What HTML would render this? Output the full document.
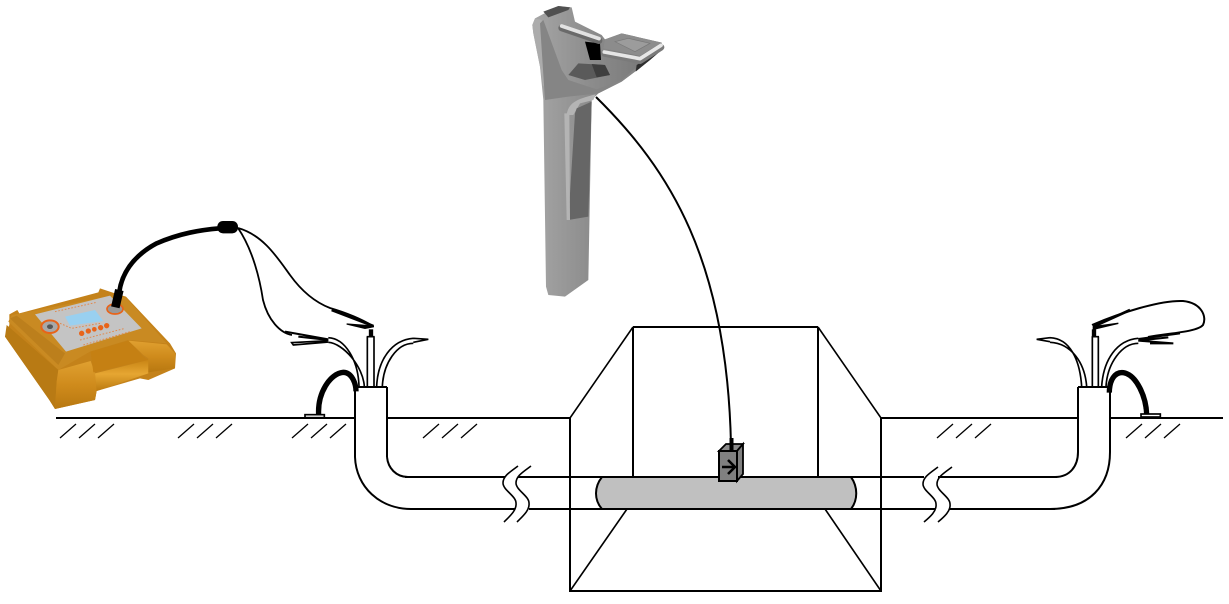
<!DOCTYPE html>
<html><head><meta charset="utf-8"><title>Diagram</title>
<style>html,body{margin:0;padding:0;background:#fff}svg{display:block}</style></head>
<body>
<svg width="1229" height="604" viewBox="0 0 1229 604" xmlns="http://www.w3.org/2000/svg">
<defs>
<linearGradient id="hf" x1="0" y1="0" x2="0" y2="1"><stop offset="0" stop-color="#c98515"/><stop offset=".45" stop-color="#e6a632"/><stop offset="1" stop-color="#bb7a10"/></linearGradient>
<linearGradient id="lob" x1="0" y1="0" x2="0" y2="1"><stop offset="0" stop-color="#e0a030"/><stop offset=".5" stop-color="#cf8b1c"/><stop offset="1" stop-color="#b87810"/></linearGradient>
<linearGradient id="rb" x1="0" y1="0" x2="1" y2="0"><stop offset="0" stop-color="#a6a6a6"/><stop offset=".45" stop-color="#8c8c8c"/><stop offset="1" stop-color="#727272"/></linearGradient>
</defs>

<!-- case -->
<g transform="translate(0,285) scale(.33333)">
<path d="M28,88 L52,75 L58,85 L295,22 L300,10 L345,25 L378,35 L510,175 L528,205 L525,250 L445,285 L420,280 L290,318 L285,345 L165,372 L148,345 L15,155 L28,120Z" fill="#c4821a"/>
<path d="M35,90 L345,30 L380,40 L500,175 L385,165 L270,200 L175,255 L25,110Z" fill="#c98a22"/>
<path d="M20,120 L175,255 L170,290 L165,372 L148,345 L15,155Z" fill="#b87a14"/>
<path d="M30,100 L50,92 L195,205 L175,240Z" fill="#bc7f1c"/>
<path d="M175,255 L272,228 L285,265 L290,318 L285,345 L165,372 L170,290Z" fill="url(#lob)"/>
<path d="M272,200 L385,167 L430,215 L445,225 L280,262Z" fill="#c58013"/>
<path d="M285,265 L445,225 L445,265 L290,318Z" fill="url(#hf)"/>
<path d="M385,167 L500,178 L525,205 L525,250 L445,262 L445,220 L430,210Z" fill="url(#lob)"/>
<path d="M105,88 L330,32 L425,130 L198,200Z" fill="#c4c4c4"/>
<path d="M195,95 L285,75 L310,108 L210,122Z" fill="#99d0f0"/>
<ellipse cx="150" cy="125" rx="26" ry="19" fill="#a8a8a8" stroke="#e8641a" stroke-width="6"/>
<ellipse cx="150" cy="125" rx="9" ry="7" fill="#555"/>
<ellipse cx="345" cy="72" rx="24" ry="15" fill="#999" stroke="#e8641a" stroke-width="5"/>
<g fill="#e8641a"><circle cx="245" cy="145" r="8"/><circle cx="265" cy="138" r="8"/><circle cx="283" cy="133" r="7"/><circle cx="302" cy="128" r="8"/><circle cx="320" cy="122" r="8"/></g>
<path d="M165,80 L290,52 M240,165 L375,130 M180,115 L215,130 L300,115 M250,180 L390,140" stroke="#e08a50" stroke-width="3" stroke-dasharray="5 5" fill="none"/>
</g>
<g transform="translate(0,210) scale(.33333)" fill="none" stroke="#000">
<path d="M346,292 L358,240" stroke-width="26"/>
<path d="M358,245 C365,195 395,140 470,100 C540,70 600,60 660,55" stroke-width="14"/>
<rect x="652" y="33" width="62" height="37" rx="17" fill="#000" stroke="none"/>
</g>

<!-- receiver -->
<g transform="translate(525,0) scale(.33333)">
<path d="M22,75 L30,55 L100,18 L140,22 L150,65 L230,105 L240,118 L290,100 L410,128 L415,145 L375,180 L330,215 L290,245 L220,280 L200,300 L190,840 L120,890 L70,885 L63,860 L55,300 L45,200 L25,100Z" fill="url(#rb)"/>
<path d="M22,75 L30,55 L50,60 L55,110 L85,230 L55,260 L45,200 L25,100Z" fill="#acacac"/>
<path d="M55,35 L100,18 L135,22 L130,30 L70,52Z" fill="#505050"/>
<path d="M45,70 L55,60 L110,210 L130,240 L215,268 L290,240 L330,205 L330,215 L290,245 L220,280 L130,290 L60,300Z" fill="#858585"/>
<path d="M130,225 L160,190 L240,195 L255,225 L180,240Z" fill="#5a5a5a"/>
<path d="M200,192 L240,195 L255,225 L215,232Z" fill="#3e3e3e"/>
<path d="M180,125 L225,130 L228,180 L195,180Z" fill="#000"/>
<path d="M125,345 C130,310 150,298 212,283 L205,300 L165,310 L145,345Z" fill="#b4b4b4"/>
<path d="M155,325 L200,305 L190,650 L130,660 L150,340Z" fill="#666"/>
<path d="M118,340 L133,340 L135,660 L125,660Z" fill="#b4b4b4"/>
<path d="M240,118 L290,100 L410,128 L345,168 L235,145Z" fill="#8c8c8c"/>
<path d="M270,125 L310,115 L375,130 L330,155Z" fill="#9c9c9c" stroke="#777" stroke-width="2"/>
<path d="M335,195 L410,150 L375,180 L332,215Z" fill="#2e2e2e"/>
<path d="M110,84 L222,122" stroke="#6a6a6a" stroke-width="20" stroke-linecap="round" fill="none"/>
<path d="M110,78 L222,116" stroke="#e2e2e2" stroke-width="11" stroke-linecap="round" fill="none"/>
<path d="M238,160 L345,182 L408,142" stroke="#7a7a7a" stroke-width="20" stroke-linecap="round" stroke-linejoin="round" fill="none"/>
<path d="M238,156 L345,176 L408,136" stroke="#e6e6e6" stroke-width="11" stroke-linecap="round" stroke-linejoin="round" fill="none"/>
</g>

<g fill="none" stroke="#000" stroke-linecap="butt">
<!-- receiver wire -->
<path d="M596,97 C670,170 727,260 731,445" stroke-width="2"/>

<!-- ground -->
<g stroke-width="2" shape-rendering="crispEdges">
<path d="M56,418H355M387,418H570M881,418H1078M1110,418H1223"/>
<path d="M570,418V592M881,418V592M570,591H881"/>
<path d="M633,327H818M633,327V477M818,327V477"/>
<path d="M355,387V457M387,387V457M355,387H387M1078,387V452M1110,387V452M1078,387H1110"/>
<path d="M405,477H505M518,477H924M938,477H1057M411,509H515M529,509H935M949,509H1055"/>
</g>
<path d="M387,457 C388,468 396,477 408,477M355,457 C356,487 380,509 411,509M1078,452 C1078,466 1070,477 1055,477M1110,452 C1110,485 1090,509 1050,509" stroke-width="2"/>
<path d="M570,418L633,327M881,418L818,327M570,591L627,509M881,591L825,509" stroke-width="1.6"/>

<!-- hatching -->
<path d="M60,438L76,424M79,438L95,424M98,438L114,424M178,438L194,424M197,438L213,424M216,438L232,424M292,438L308,424M311,438L327,424M330,438L346,424M423,438L439,424M442,438L458,424M461,438L477,424M937,438L953,424M956,438L972,424M975,438L991,424M1126,438L1142,424M1145,438L1161,424M1164,438L1180,424" stroke-width="1.3"/>

<!-- grey pipe -->
<path d="M602,477 H851 C858,487 858,500 851,509 H602 C594,500 594,487 602,477Z" fill="#c0c0c0" stroke-width="2"/>

<!-- breaks -->
<path d="M518,466 C510,472 503,476 503,483 C503,490 516,496 516,503 C517,510 510,516 504,522M531,466 C523,472 516,476 516,483 C516,490 529,496 529,503 C530,510 523,516 517,522" stroke-width="1.6"/>
<path d="M938,467 C930,473 923,477 923,484 C923,491 936,497 936,504 C937,511 930,517 924,522M952,467 C944,473 937,477 937,484 C937,491 950,497 950,504 C951,511 944,517 938,522" stroke-width="1.6"/>

<!-- transmitter -->
<path d="M719,451 L726,444 H743 L737,451Z" fill="#8a8a8a" stroke-width="1.8"/>
<path d="M737,451 L743,444 V474 L737,481Z" fill="#808080" stroke-width="1.8"/>
<rect x="719" y="451" width="18" height="30" fill="#808080" stroke-width="2"/>
<path d="M722,467H734M728,460L735,467L728,474" stroke-width="2.6"/>
<path d="M731.500,438V450" stroke-width="4"/>

<!-- left leads from plug -->
<path d="M238,228 C263,235 277,257 290,275 C303,293 317,303 330,308 C347,313 363,320 373,326" stroke-width="1.8"/>
<path d="M238,228 C253,250 260,280 263,300 C268,320 280,333 292,335" stroke-width="1.8"/>

<!-- left clamp and conduits -->
<g transform="translate(230,220) scale(.33333)">
<rect x="225" y="584" width="58" height="9" fill="#fff" stroke-width="5"/>
<path d="M266,585 C262,520 300,460 340,457 C365,457 378,490 378,514" stroke-width="16"/>
</g>
<g transform="translate(285,310) scale(.33333)" stroke-width="5">
<path d="M130,83 C180,85 220,150 222,230M130,97 C175,100 235,170 238,230"/>
<path d="M247,80V230M267,80V230M245,80H269"/>
<path d="M258,80V58" stroke-width="13"/>
<path d="M275,230 C278,150 320,90 385,85M292,230 C295,160 335,100 385,100M385,85L430,88L385,97"/>
<path d="M265,48L185,42L240,55L265,50Z" fill="#000" stroke-width="4"/>
<path d="M140,0L265,48" stroke-width="8"/>
<path d="M130,88L0,65M130,90L40,80" stroke-width="6"/>
<path d="M130,92L20,98L25,105L130,96" stroke-width="5"/>
</g>

<!-- right clamp and conduits -->
<g transform="translate(1020,290) scale(.33333)">
<rect x="363" y="372" width="58" height="9" fill="#fff" stroke-width="5"/>
<path d="M380,373 C378,320 350,255 310,248 C285,245 268,270 268,308" stroke-width="16"/>
</g>
<g transform="translate(1030,310) scale(.33333)" stroke-width="5">
<path d="M155,230 C150,150 120,85 60,83M170,230 C165,160 125,100 60,97M60,83L20,88L60,95"/>
<path d="M187,80V230M205,80V230M185,80H207"/>
<path d="M192,80V58" stroke-width="13"/>
<path d="M215,230 C220,150 260,90 325,85M228,230 C232,160 275,100 325,100"/>
<path d="M325,87L450,70M325,92L415,82" stroke-width="6"/>
<path d="M325,92L430,100L360,100" stroke-width="6"/>
<path d="M190,50L265,40L190,58Z" fill="#000" stroke-width="4"/>
<path d="M190,50L300,0" stroke-width="8"/>
</g>
<path d="M1092,325 C1120,313 1160,300 1183,301 C1202,303 1207,317 1203,325 C1197,332 1170,333 1148,337" stroke-width="2"/>
</g>
</svg>
</body></html>
